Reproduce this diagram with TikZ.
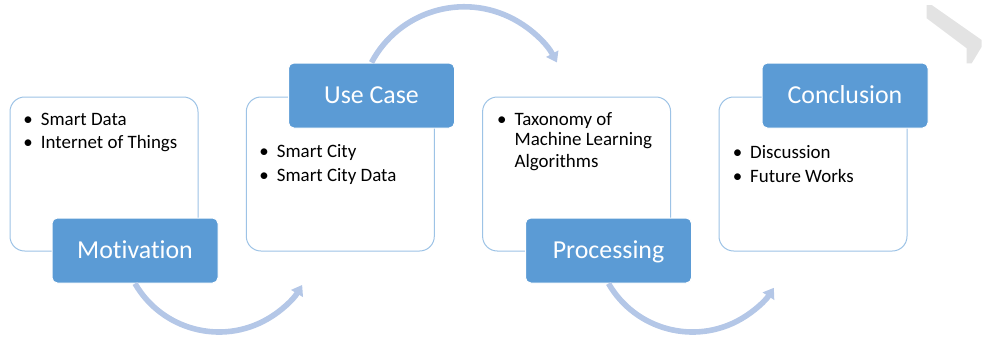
\documentclass[tikz,border=0pt]{standalone}
\usepackage{fontspec}
\setmainfont{Carlito}[Ligatures=NoCommon]
\usetikzlibrary{arrows.meta}
\definecolor{tagblue}{RGB}{91,155,213}
\definecolor{cardline}{RGB}{157,195,230}
\definecolor{flowblue}{RGB}{180,199,231}
\definecolor{markgray}{RGB}{227,227,227}
\newcommand{\bitem}{\makebox[13.1pt][l]{\textbullet}}
\begin{document}
\begin{tikzpicture}[x=0.75pt,y=0.75pt,
		card/.style={draw=cardline,line width=0.75pt,fill=white,rounded corners=11pt,minimum width=141pt,minimum height=115.5pt},
		tag/.style={draw=white,line width=0.75pt,fill=tagblue,rounded corners=4pt,minimum width=124.5pt,minimum height=48.75pt,text=white,font=\fontsize{19.4}{23}\selectfont,text height=12.5pt,text depth=0pt},
		entry/.style={anchor=base west,inner sep=0pt,font=\fontsize{14.2}{17}\selectfont},
		flow/.style={draw=flowblue,line width=4.2pt,-{Triangle[width=10pt,length=7.5pt]}}]
			\useasboundingbox (0,0) rectangle (982,337);
			\fill[markgray] (926.7,332) -- (931.7,332) -- (981.7,297) -- (981.7,290.3) -- (971.7,273.7) -- (966.7,273.7) -- (966.7,288.7) -- (926.7,318.7) -- cycle;
			\node[card] (motbox) at (104,163) {};
			\node[card] (usebox) at (340.3,163) {};
			\node[card] (probox) at (576.6,163) {};
			\node[card] (conbox) at (813,163) {};
			\node[tag] (mot) at (135,86.5) {Motivation};
			\node[tag] (use) at (371.5,241.5) {Use Case};
			\node[tag] (pro) at (608.5,86.5) {Processing};
			\node[tag] (con) at (845,241.5) {Conclusion};
			\node[entry] (mot1) at (23.2,212) {\bitem Smart Data};
			\node[entry] (mot2) at (23.2,188.5) {\bitem Internet of Things};
			\node[entry] (use1) at (259.2,180) {\bitem Smart City};
			\node[entry] (use2) at (259.2,155.5) {\bitem Smart City Data};
			\node[entry] (pro1) at (496.8,212) {\bitem Taxonomy of};
			\node[entry] (pro2) at (514.3,192) {Machine Learning};
			\node[entry] (pro3) at (514.3,170) {Algorithms};
			\node[entry] (con1) at (732.5,179) {\bitem Discussion};
			\node[entry] (con2) at (732.5,155) {\bitem Future Works};
			\draw[flow] (mot.south) arc[start angle=210,end angle=329,radius=97];
			\draw[flow] (use.north) arc[start angle=152,end angle=28,radius=105];
			\draw[flow] (pro.south) arc[start angle=210,end angle=327,radius=97];
		\end{tikzpicture}
\end{document}
